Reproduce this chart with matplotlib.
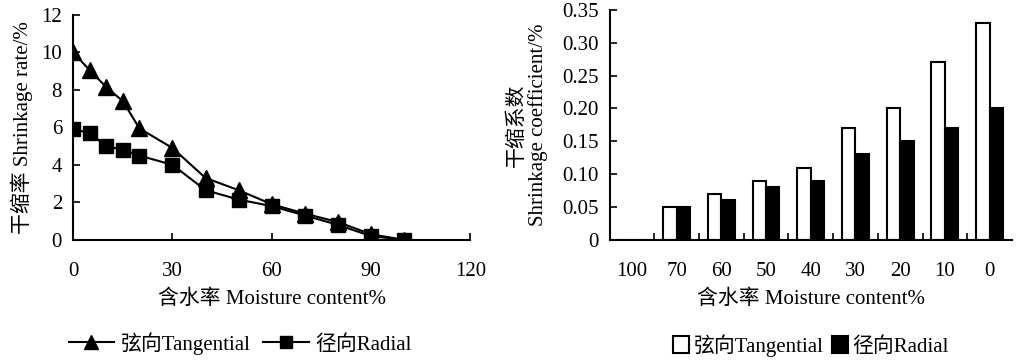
import numpy as np
import matplotlib.pyplot as plt

plt.rcParams['font.family'] = ['Liberation Serif', 'Noto Sans CJK SC']
plt.rcParams['font.size'] = 15

# left chart: shrinkage rate vs moisture content
moisture = [0, 5, 10, 15, 20, 30, 40, 50, 60, 70, 80, 90, 100]
tangential_rate = [10.0, 9.05, 8.15, 7.4, 5.95, 4.9, 3.3, 2.65, 1.9, 1.4, 0.95, 0.3, 0.0]
radial_rate = [5.9, 5.7, 5.0, 4.8, 4.5, 4.0, 2.65, 2.15, 1.8, 1.3, 0.8, 0.2, 0.0]

# right chart: shrinkage coefficient per moisture class
classes = ['100', '70', '60', '50', '40', '30', '20', '10', '0']
tangential_coef = [0.0, 0.05, 0.07, 0.09, 0.11, 0.17, 0.20, 0.27, 0.33]
radial_coef = [0.0, 0.05, 0.06, 0.08, 0.09, 0.13, 0.15, 0.17, 0.20]

fig = plt.figure(figsize=(10.16, 3.64), dpi=100)
ax1 = fig.add_axes([0.072, 0.341, 0.391, 0.618])
ax2 = fig.add_axes([0.600, 0.341, 0.396, 0.632])

for ax in (ax1, ax2):
    ax.spines['top'].set_visible(False)
    ax.spines['right'].set_visible(False)
    ax.spines['left'].set_linewidth(1.5)
    ax.spines['bottom'].set_linewidth(1.5)
    ax.tick_params(direction='in', length=5, width=1.2, labelsize=15)
    ax.tick_params(axis='y', pad=8)

ax1.plot(moisture, tangential_rate, color='black', lw=1.5, marker='^', ms=11, label='弦向Tangential')
ax1.plot(moisture, radial_rate, color='black', lw=1.5, marker='s', ms=10, label='径向Radial')
ax1.set_xlim(0, 120)
ax1.set_ylim(0, 12)
ax1.set_xticks([0, 30, 60, 90, 120])
ax1.set_yticks([0, 2, 4, 6, 8, 10, 12])
ax1.tick_params(axis='x', pad=16)
ax1.set_xlabel('含水率 Moisture content%', labelpad=6)
ax1.set_ylabel('干缩率 Shrinkage rate/%', labelpad=6)
ax1.legend(loc='center', bbox_to_anchor=(0.42, -0.46), ncol=2, frameon=False,
           handlelength=2.2, handletextpad=0.3, columnspacing=0.6, fontsize=15, markerscale=0.9)

x = np.arange(len(classes))
w = 0.3
ax2.bar(x - w / 2, tangential_coef, w, color='white', edgecolor='black', lw=1.5, label='弦向Tangential')
ax2.bar(x + w / 2, radial_coef, w, color='black', edgecolor='black', lw=1.5, label='径向Radial')
ax2.set_xlim(-0.5, len(classes) - 0.5)
ax2.set_ylim(0, 0.35)
ax2.set_xticks(x)
ax2.set_xticklabels(classes)
ax2.set_xticks(np.arange(0.5, len(classes) - 0.5, 1), minor=True)
ax2.tick_params(axis='x', which='major', length=0, pad=16)
ax2.tick_params(axis='x', which='minor', direction='in', length=5, width=1.2)
ax2.set_yticks([0, 0.05, 0.10, 0.15, 0.20, 0.25, 0.30, 0.35])
ax2.set_yticklabels(['0', '0.05', '0.10', '0.15', '0.20', '0.25', '0.30', '0.35'])
ax2.set_xlabel('含水率 Moisture content%', labelpad=6)
ax2.set_ylabel('干缩系数\nShrinkage coefficient/%', labelpad=10, linespacing=1.1)
ax2.legend(loc='center', bbox_to_anchor=(0.5, -0.46), ncol=2, frameon=False,
           handlelength=0.8, handleheight=0.9, handletextpad=0.2, columnspacing=0.4, fontsize=15)

fig.savefig('out.png', dpi=100)
